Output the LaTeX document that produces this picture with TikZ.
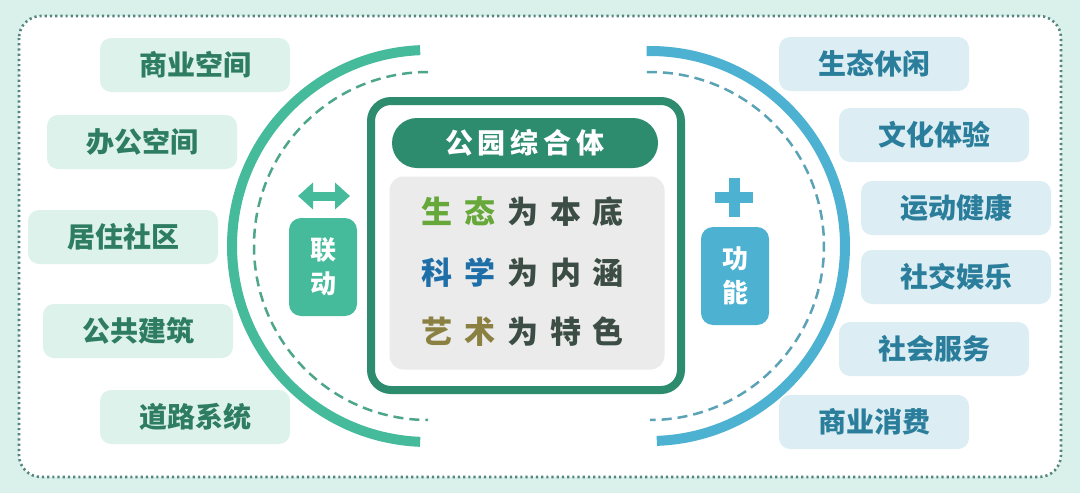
\documentclass[tikz,border=0pt]{standalone}
\usepackage{fontspec}
\setmainfont{Noto Sans CJK SC}
\usetikzlibrary{arrows.meta}
\definecolor{bgmint}{HTML}{D9F1EA}
\definecolor{dotc}{HTML}{55857F}
\definecolor{lpill}{HTML}{DCF2EB}
\definecolor{ltext}{HTML}{2E7D63}
\definecolor{rpill}{HTML}{DCEEF4}
\definecolor{rtext}{HTML}{2B7E9B}
\definecolor{teal}{HTML}{45BB9C}
\definecolor{tealdash}{HTML}{4DA68C}
\definecolor{blu}{HTML}{4DB1D2}
\definecolor{bludash}{HTML}{5AA2B6}
\definecolor{boxg}{HTML}{2D8C6E}
\definecolor{greyb}{HTML}{EBEBEB}
\definecolor{cgreen}{HTML}{66A83A}
\definecolor{cblue}{HTML}{1E6EA8}
\definecolor{colive}{HTML}{8A8042}
\definecolor{cdark}{HTML}{3C4D45}
\newcommand{\chsp}{\hspace{12pt}}
\begin{document}
\begin{tikzpicture}[x=1pt,y=-1pt,
  lp/.style={fill=lpill,text=ltext,rounded corners=11pt,minimum width=190pt,minimum height=54pt,font=\bfseries\fontsize{28}{28}\selectfont,inner sep=0pt},
  rp/.style={fill=rpill,text=rtext,rounded corners=11pt,minimum width=190pt,minimum height=54pt,font=\bfseries\fontsize{28}{28}\selectfont,inner sep=0pt},
  tagbox/.style={rounded corners=12pt,minimum width=68pt,minimum height=98pt,text=white,font=\bfseries\fontsize{26}{34}\selectfont,align=center,inner sep=0pt},
  line/.style={font=\bfseries\fontsize{31}{31}\selectfont,inner sep=0pt,anchor=center}
]
\useasboundingbox (0,0) rectangle (1080,493);
\fill[bgmint] (0,0) rectangle (1080,493);
\draw[fill=white,draw=dotc,line width=2.6pt,dash pattern=on 2.2pt off 3pt,rounded corners=22pt] (19,16) rectangle (1061,477);

% arcs
\draw[teal,line width=10pt] (428,246) ++(267.7:196) arc[start angle=267.7,end angle=92.3,radius=196];
\draw[tealdash,line width=2.5pt,dash pattern=on 10pt off 6pt] (428,246) ++(270:174) arc[start angle=270,end angle=90,radius=174];
\draw[blu,line width=10pt] (650,246) ++(-91:195) arc[start angle=-91,end angle=88,radius=195];
\draw[bludash,line width=2.5pt,dash pattern=on 10pt off 6pt] (650,246) ++(-91:174) arc[start angle=-91,end angle=90,radius=174];

% left pills
\node[lp] (l1) at (195,65) {商业空间};
\node[lp] (l2) at (142,142) {办公空间};
\node[lp] (l3) at (123,237) {居住社区};
\node[lp] (l4) at (138,331) {公共建筑};
\node[lp] (l5) at (195,417) {道路系统};
% right pills
\node[rp] (r1) at (874,64) {生态休闲};
\node[rp] (r2) at (934,135) {文化体验};
\node[rp] (r3) at (956,208) {运动健康};
\node[rp] (r4) at (956,277) {社交娱乐};
\node[rp] (r5) at (934,349) {社会服务};
\node[rp] (r6) at (874,422) {商业消费};

% centre box
\draw[boxg,line width=8pt,fill=white,rounded corners=20pt] (371,101) rectangle (681,390);
\node[fill=boxg,rounded corners=25pt,minimum width=266pt,minimum height=50pt,text=white,font=\bfseries\fontsize{28}{28}\selectfont,inner sep=0pt] (title) at (525,143) {公\hspace{5pt}园\hspace{5pt}综\hspace{5pt}合\hspace{5pt}体};
\node[fill=greyb,rounded corners=14pt,minimum width=275pt,minimum height=193pt,inner sep=0pt] (grey) at (527,273) {};
\foreach \yy/\a/\b/\c/\d/\e/\col in {212/生/态/为/本/底/cgreen,273/科/学/为/内/涵/cblue,332/艺/术/为/特/色/colive}{
  \node[line] at (522.5,\yy) {\textcolor{\col}{\a\chsp\b}\chsp\textcolor{cdark}{\c\chsp\d\chsp\e}};
}

% left tag
\node[tagbox,fill=teal] (ld) at (323,267) {联\\动};
\coordinate (la) at (298,196);
\coordinate (lb) at (350,196);
\draw[teal,line width=9pt,{Triangle[length=15pt,width=26pt]}-{Triangle[length=15pt,width=26pt]}] (la) -- (lb);

% right tag
\node[tagbox,fill=blu] (gn) at (735,276) {功\\能};
\fill[blu] (715,192) rectangle (753,203);
\fill[blu] (728.5,178) rectangle (739.5,217);
\end{tikzpicture}
\end{document}
